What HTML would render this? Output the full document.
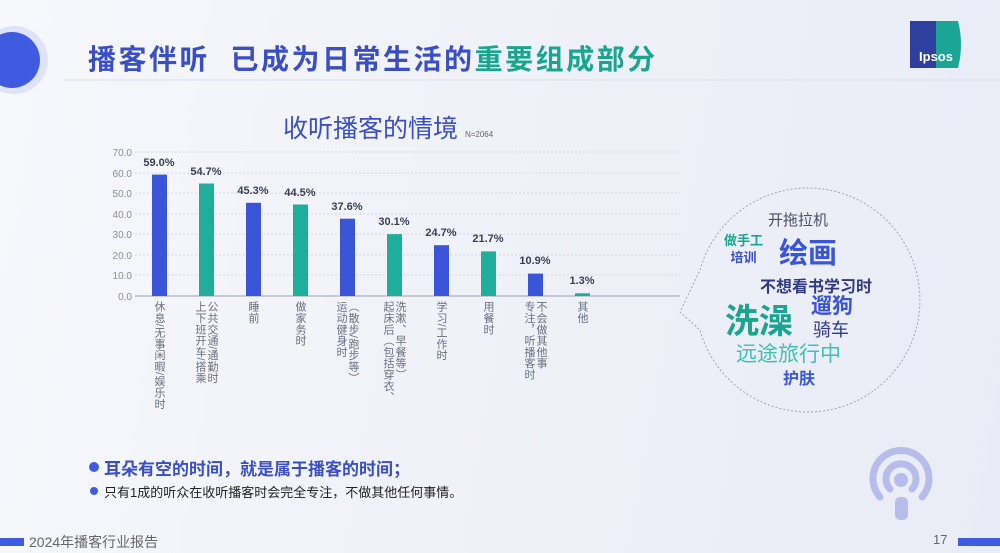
<!DOCTYPE html>
<html><head><meta charset="utf-8"><style>
body{margin:0;width:1000px;height:553px;overflow:hidden;background:linear-gradient(100deg,#f7f8fc 0%,#eef0f8 60%,#e9ecf6 100%);font-family:"Liberation Sans","Noto Sans CJK SC",sans-serif;position:relative}
.abs{position:absolute}
.lab{position:absolute;top:301px;writing-mode:vertical-rl;font-size:11px;line-height:12px;color:#6a6f80;letter-spacing:0.3px;font-family:"Liberation Sans","Noto Sans CJK SC",sans-serif}
</style></head><body>
<svg class="abs" style="left:0;top:0" width="1000" height="553">
  <circle cx="14" cy="60" r="34" fill="#dfe3f7"/>
  <circle cx="12" cy="60" r="28" fill="#3f5ce0"/>
  <line x1="64" y1="80" x2="1000" y2="80" stroke="#e2e5ef" stroke-width="1.5"/>
  <rect x="910" y="21" width="26" height="47" fill="#2f3fa0"/>
  <path d="M936 21 H958 Q964 44 958 68 H936 Z" fill="#1aa596"/>
  <text x="936" y="61" font-size="13" font-weight="bold" fill="#fff" text-anchor="middle" font-family="Liberation Sans">Ipsos</text>
  <g stroke="#d4d7e2" stroke-dasharray="2,2" stroke-width="1">
    <line x1="135" y1="152" x2="680" y2="152"/><line x1="135" y1="173" x2="680" y2="173"/>
    <line x1="135" y1="193" x2="680" y2="193"/><line x1="135" y1="214" x2="680" y2="214"/>
    <line x1="135" y1="234" x2="680" y2="234"/><line x1="135" y1="255" x2="680" y2="255"/>
    <line x1="135" y1="275" x2="680" y2="275"/>
  </g>
  <line x1="135" y1="296" x2="680" y2="296" stroke="#9aa0b0" stroke-width="1"/>
  <g font-size="10" fill="#8a8f9e" text-anchor="end" font-family="Liberation Sans">
    <text x="132" y="156">70.0</text><text x="132" y="177">60.0</text><text x="132" y="197">50.0</text>
    <text x="132" y="218">40.0</text><text x="132" y="238">30.0</text><text x="132" y="259">20.0</text>
    <text x="132" y="279">10.0</text><text x="132" y="300">0.0</text>
  </g>
  <g>
    <rect x="152" y="174.6" width="15" height="121.4" fill="#3b55d9"/>
    <rect x="199" y="183.5" width="15" height="112.5" fill="#1fae9a"/>
    <rect x="246" y="202.8" width="15" height="93.2" fill="#3b55d9"/>
    <rect x="293" y="204.5" width="15" height="91.5" fill="#1fae9a"/>
    <rect x="340" y="218.7" width="15" height="77.3" fill="#3b55d9"/>
    <rect x="387" y="234.1" width="15" height="61.9" fill="#1fae9a"/>
    <rect x="434" y="245.2" width="15" height="50.8" fill="#3b55d9"/>
    <rect x="481" y="251.4" width="15" height="44.6" fill="#1fae9a"/>
    <rect x="528" y="273.6" width="15" height="22.4" fill="#3b55d9"/>
    <rect x="575" y="293.3" width="15" height="2.7" fill="#1fae9a"/>
  </g>
  <g font-size="11" font-weight="bold" fill="#3a3f55" text-anchor="middle" font-family="Liberation Sans">
    <text x="159" y="166">59.0%</text><text x="206" y="175">54.7%</text><text x="253" y="194">45.3%</text>
    <text x="300" y="196">44.5%</text><text x="347" y="210">37.6%</text><text x="394" y="225">30.1%</text>
    <text x="441" y="236">24.7%</text><text x="488" y="242">21.7%</text><text x="535" y="264">10.9%</text>
    <text x="582" y="284">1.3%</text>
  </g>
  <path d="M700 270 A112 112 0 1 1 700 330 L680 312 Z" fill="none" stroke="#a0a4b0" stroke-dasharray="2,2" stroke-width="1"/>
  <g fill="none" stroke="#b6bdea" stroke-width="7" stroke-linecap="round">
    <path d="M880 497 A28 28 0 1 1 922 497"/>
    <path d="M890 489 A15 15 0 1 1 912 489"/>
  </g>
  <circle cx="901" cy="480" r="7" fill="#b6bdea"/>
  <rect x="895" y="497" width="13" height="23" rx="5" fill="#b6bdea"/>
  <rect x="0" y="538" width="24" height="8" fill="#3f5ce0"/>
  <rect x="958" y="538" width="42" height="8" fill="#3f5ce0"/>
  <circle cx="94" cy="467" r="5" fill="#3f5ce0"/>
  <circle cx="94" cy="491" r="4" fill="#3f5ce0"/>
</svg>
<div class="abs" style="left:88px;top:38px;font-size:28px;font-weight:bold;color:#3a4fc4;letter-spacing:2.5px;white-space:nowrap">播客伴听&nbsp;&nbsp;已成为日常生活的<span style="color:#1aa58e">重要组成部分</span></div>
<div class="abs" style="left:283px;top:109px;font-size:25px;color:#3a4fc4;white-space:nowrap">收听播客的情境 <span style="font-size:8px;color:#666">N=2064</span></div>

<div class="lab" style="left:153px">休息/无事闲暇/娱乐时</div>
<div class="lab" style="left:194px">公共交通/通勤时<br>上下班开车/搭乘</div>
<div class="lab" style="left:247px">睡前</div>
<div class="lab" style="left:294px">做家务时</div>
<div class="lab" style="left:335px">（散步/跑步等）<br>运动健身时</div>
<div class="lab" style="left:382px">洗漱、早餐等）<br>起床后（包括穿衣、</div>
<div class="lab" style="left:435px">学习/工作时</div>
<div class="lab" style="left:482px">用餐时</div>
<div class="lab" style="left:523px">不会做其他事<br>专注，听播客时</div>
<div class="lab" style="left:576px">其他</div>

<div class="abs" style="left:768px;top:209px;font-size:15px;color:#4a4f60">开拖拉机</div>
<div class="abs" style="left:724px;top:232px;font-size:13px;font-weight:bold;color:#1aa58e;line-height:17px;text-align:center">做手工<br><span style="color:#3a4fc4">培训</span></div>
<div class="abs" style="left:779px;top:230px;font-size:29px;font-weight:bold;color:#3b55d9">绘画</div>
<div class="abs" style="left:760px;top:273px;font-size:16px;font-weight:bold;color:#2f3a80">不想看书学习时</div>
<div class="abs" style="left:725px;top:294px;font-size:34px;font-weight:bold;color:#1aa58e">洗澡</div>
<div class="abs" style="left:811px;top:290px;font-size:21px;font-weight:bold;color:#3b55d9">遛狗</div>
<div class="abs" style="left:813px;top:316px;font-size:18px;color:#2f3a80">骑车</div>
<div class="abs" style="left:736px;top:338px;font-size:21px;color:#3fc0b0">远途旅行中</div>
<div class="abs" style="left:783px;top:365px;font-size:16px;font-weight:bold;color:#3b55d9">护肤</div>

<div class="abs" style="left:104px;top:455px;font-size:17px;font-weight:bold;color:#3a4fc4;white-space:nowrap">耳朵有空的时间，就是属于播客的时间；</div>
<div class="abs" style="left:104px;top:482px;font-size:13px;color:#222;white-space:nowrap">只有1成的听众在收听播客时会完全专注，不做其他任何事情。</div>
<div class="abs" style="left:29px;top:532px;font-size:14px;color:#666;white-space:nowrap">2024年播客行业报告</div>
<div class="abs" style="left:933px;top:532px;font-size:13px;color:#666">17</div>
</body></html>
